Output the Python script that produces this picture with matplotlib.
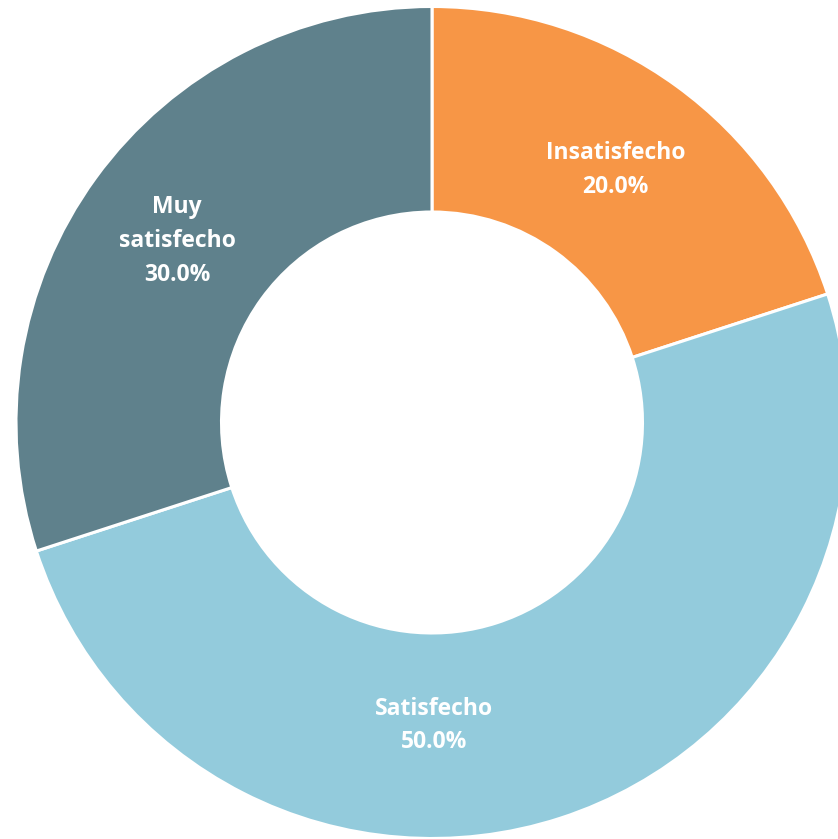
import numpy as np
import matplotlib.pyplot as plt

categories = ['Insatisfecho', 'Satisfecho', 'Muy\nsatisfecho']
shares = [20.0, 50.0, 30.0]
colors = ['#F79646', '#93CBDC', '#5F818C']
# where excel put each label: (angle deg, radius px)
label_pos = [(54, 312), (-89.6, 303), (144.5, 313)]

W, H = 838, 839
cx, cy = 432, H - 422.5
r_out = 416
r_in = 210.5

fig = plt.figure(figsize=(W / 100, H / 100), dpi=100)
ax = fig.add_axes([0, 0, 1, 1])
ax.set_xlim(0, W)
ax.set_ylim(0, H)
ax.set_aspect('equal')
ax.axis('off')

ax.pie(shares, colors=colors, startangle=90, counterclock=False,
       center=(cx, cy), radius=r_out,
       wedgeprops=dict(width=r_out - r_in, edgecolor='white', linewidth=2.2))
ax.set_xlim(0, W)
ax.set_ylim(0, H)

for name, val, (ang, rr) in zip(categories, shares, label_pos):
    a = np.deg2rad(ang)
    ax.text(cx + rr * np.cos(a), cy + rr * np.sin(a), f'{name}\n{val:.1f}%',
            ha='center', va='center', color='white', fontsize=16.5,
            fontweight='bold', family=['Open Sans', 'DejaVu Sans'],
            linespacing=1.55)

fig.savefig('out.png', dpi=100)
